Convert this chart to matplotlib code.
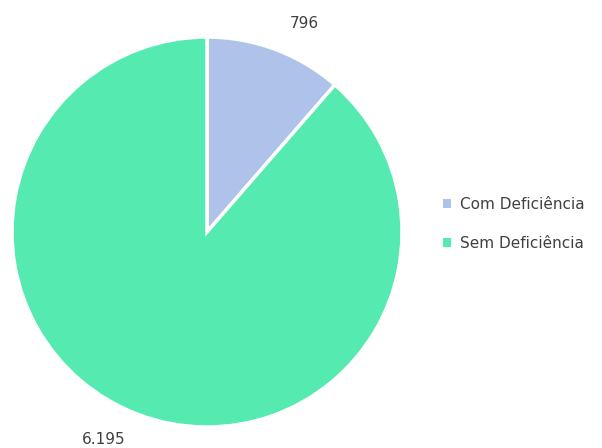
import numpy as np
import matplotlib.pyplot as plt
from matplotlib.patches import Patch

categorias = ['Com Deficiência', 'Sem Deficiência']
valores = [796, 6195]
rotulos = ['796', '6.195']
cores = ['#AFC3EA', '#55EAB0']

fig = plt.figure(figsize=(6.02, 4.48), dpi=100)
ax = fig.add_axes([12 / 602, 21 / 448, 390 / 602, 390 / 448])

wedges, _ = ax.pie(valores, colors=cores, startangle=90, counterclock=False,
                   wedgeprops=dict(edgecolor='white', linewidth=2.5))
ax.set_aspect('equal')
ax.set_xlim(-1, 1)
ax.set_ylim(-1, 1)

# rotulos de dados (posicao parecida com o Excel)
pos = [(0.50, 1.07), (-0.53, -1.065)]
for (x, y), t in zip(pos, rotulos):
    ax.text(x, y, t, ha='center', va='center', fontsize=11, color='#404040',
            family='DejaVu Sans', clip_on=False)

handles = [Patch(facecolor=c, edgecolor='none') for c in cores]
fig.legend(handles, categorias, loc='center left', bbox_to_anchor=(429 / 602, 1 - 224 / 448),
           frameon=False, labelcolor='#404040', handlelength=0.55, handleheight=0.55,
           handletextpad=0.6, labelspacing=1.6, prop={'family': 'DejaVu Sans', 'size': 11})

fig.savefig('out.png', dpi=100)
